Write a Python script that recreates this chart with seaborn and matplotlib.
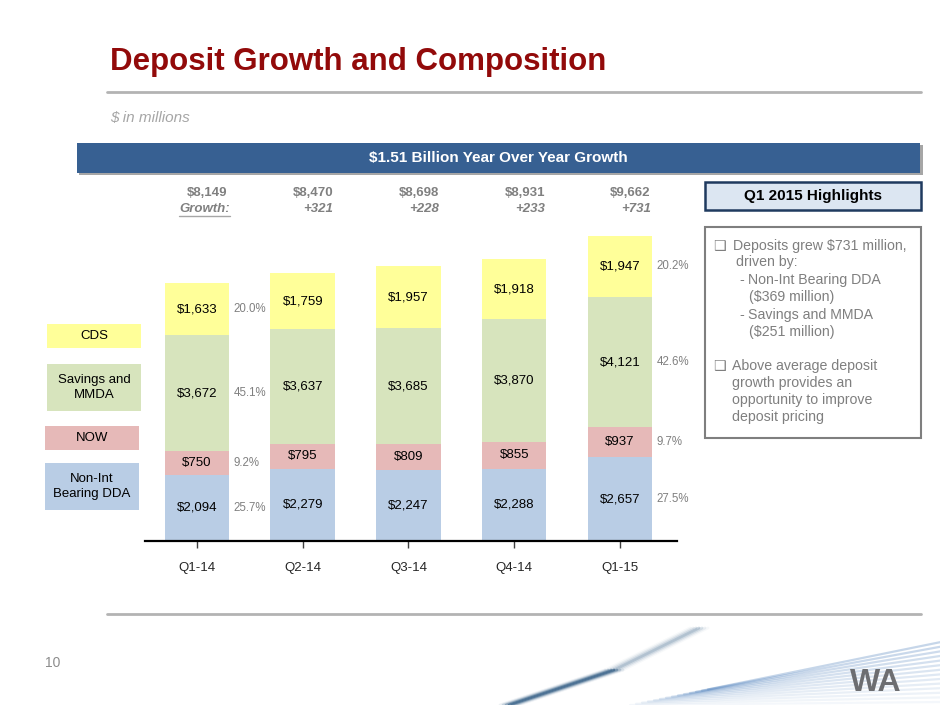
import numpy as np
import pandas as pd
import matplotlib.pyplot as plt
import matplotlib.transforms as mtrans
from matplotlib.patches import Rectangle
import seaborn as sns

sns.set_style("white")
plt.rcParams['font.family'] = ['Liberation Sans', 'DejaVu Sans']

# data ($ in millions)
quarters = ["Q1-14", "Q2-14", "Q3-14", "Q4-14", "Q1-15"]
non_int_dda = [2094, 2279, 2247, 2288, 2657]
now_accts = [750, 795, 809, 855, 937]
savings_mmda = [3672, 3637, 3685, 3870, 4121]
cds = [1633, 1759, 1957, 1918, 1947]
totals = [8149, 8470, 8698, 8931, 9662]
growth = [None, 321, 228, 233, 731]
pct_q1_14 = ["25.7%", "9.2%", "45.1%", "20.0%"]
pct_q1_15 = ["27.5%", "9.7%", "42.6%", "20.2%"]

legend_names = ["CDS", "Savings and\nMMDA", "NOW", "Non-Int\nBearing DDA"]

C_DDA = "#B9CDE5"
C_NOW = "#E6B9B8"
C_SAV = "#D7E4BD"
C_CDS = "#FFFF99"
GRAY = "#808080"

df = pd.DataFrame({"quarter": quarters, "dda": non_int_dda, "now": now_accts,
                   "sav": savings_mmda, "cds": cds})
df["c_now"] = df["dda"] + df["now"]
df["c_sav"] = df["c_now"] + df["sav"]
df["c_cds"] = df["c_sav"] + df["cds"]

fig = plt.figure(figsize=(9.4, 7.05), dpi=100)

# full page overlay in pixel coordinates
ov = fig.add_axes([0, 0, 1, 1])
ov.set_xlim(0, 940)
ov.set_ylim(705, 0)
ov.axis("off")

# chart
ax = fig.add_axes([145 / 940, (705 - 541) / 705, 532 / 940, 316 / 705])
ax.patch.set_alpha(0)
bw = 0.61
for col, color in [("c_cds", C_CDS), ("c_sav", C_SAV), ("c_now", C_NOW), ("dda", C_DDA)]:
    sns.barplot(data=df, x="quarter", y=col, color=color, width=bw, saturation=1,
                linewidth=0, ax=ax)

ax.set_xlim(-0.492, 4.54)
ax.set_ylim(0, 10000)
ax.set_xlabel("")
ax.set_ylabel("")
ax.set_yticks([])
for s in ["top", "right", "left"]:
    ax.spines[s].set_visible(False)
ax.spines["bottom"].set_linewidth(1.6)
ax.spines["bottom"].set_color("black")
ax.tick_params(axis="x", bottom=True, direction="out", length=5, width=1,
               color="#404040", pad=10, labelsize=9.5)

# segment labels
for i in range(len(quarters)):
    segs = [non_int_dda[i], now_accts[i], savings_mmda[i], cds[i]]
    base = 0
    for j, v in enumerate(segs):
        mid = base + v / 2
        ax.text(i, mid, f"${v:,}", ha="center", va="center", fontsize=9.5, color="black")
        if i == 0:
            ax.text(i + bw / 2 + 0.04, mid, pct_q1_14[j], ha="left", va="center",
                    fontsize=8.3, color=GRAY)
        if i == len(quarters) - 1:
            ax.text(i + bw / 2 + 0.04, mid, pct_q1_15[j], ha="left", va="center",
                    fontsize=8.3, color=GRAY)
        base += v

# totals and growth above the bars
blend = mtrans.blended_transform_factory(ax.transData, ov.transData)
for i, t in enumerate(totals):
    ax.text(i + 0.29, 193, f"${t:,}", transform=blend, ha="right", va="center",
            fontsize=9.5, fontweight="bold", color=GRAY)
    if growth[i] is not None:
        ax.text(i + 0.29, 209, f"+{growth[i]}", transform=blend, ha="right", va="center",
                fontsize=9.5, fontweight="bold", style="italic", color=GRAY)
g_txt = ax.text(0 + 0.31, 209, "Growth:", transform=blend, ha="right", va="center",
                fontsize=9.5, fontweight="bold", style="italic", color=GRAY)

# title area
ov.text(110, 62, "Deposit Growth and Composition", fontsize=22.5, fontweight="bold",
        color="#920A0A", ha="left", va="center")
ov.plot([107, 921], [92, 92], color="#B3B3B3", lw=2)
ov.text(110, 118, "$ in millions", fontsize=11, style="italic", color="#A6A6A6",
        ha="left", va="center")

# banner
ov.add_patch(Rectangle((79, 145), 844, 30, facecolor="#A6A6A6", edgecolor="none"))
ov.add_patch(Rectangle((77, 143), 843, 30, facecolor="#376092", edgecolor="none"))
ov.text(498, 158, "$1.51 Billion Year Over Year Growth", fontsize=11, fontweight="bold",
        color="white", ha="center", va="center")

# legend boxes
leg_boxes = [(47, 324, 94, 24, C_CDS), (47, 364, 94, 47, C_SAV),
             (45, 426, 94, 24, C_NOW), (45, 463, 94, 47, C_DDA)]
for name, (x0, y0, w, h, c) in zip(legend_names, leg_boxes):
    ov.add_patch(Rectangle((x0, y0), w, h, facecolor=c, edgecolor="none"))
    ov.text(x0 + w / 2, y0 + h / 2, name, fontsize=9.5, ha="center", va="center",
            color="black", linespacing=1.25)

# highlights
ov.add_patch(Rectangle((705, 182), 216, 28, facecolor="#DCE6F2", edgecolor="#1F3A5F", lw=1.8))
ov.text(813, 196, "Q1 2015 Highlights", fontsize=11, fontweight="bold", color="black",
        ha="center", va="center")
ov.add_patch(Rectangle((705, 227), 216, 211, facecolor="white", edgecolor="#7F7F7F", lw=1.5))
hl_lines = [
    (713, 246, "\u2751"), (733, 246, "Deposits grew $731 million,"),
    (736, 262, "driven by:"),
    (739, 280, "-"), (748, 280, "Non-Int Bearing DDA"),
    (749, 297, "($369 million)"),
    (739, 315, "-"), (748, 315, "Savings and MMDA"),
    (749, 332, "($251 million)"),
    (713, 366, "\u2751"), (732, 366, "Above average deposit"),
    (732, 383, "growth provides an"),
    (732, 400, "opportunity to improve"),
    (732, 417, "deposit pricing"),
]
for x, y, s in hl_lines:
    ov.text(x, y, s, fontsize=10.2, color="#7F7F7F", ha="left", va="center",
            family=["Liberation Sans", "DejaVu Sans"])

# footer
ov.plot([107, 921], [614, 614], color="#B3B3B3", lw=2)
ov.text(45, 663, "10", fontsize=10, color="#8C8C8C", ha="left", va="center")
for k in range(14):
    ov.plot([630 + k * 6, 940], [705 - k * 1.2, 702 - k * 4.6], color="#4F81BD",
            alpha=0.06 + 0.02 * k, lw=1.6)
for k, a in enumerate([0.08, 0.18, 0.35, 0.55, 0.35, 0.18, 0.08]):
    ov.plot([500 + k * 3, 605 + k * 3], [705, 670], color="#1F4E79", alpha=a, lw=2)
    ov.plot([605 + k * 3, 690 + k * 3], [670, 628], color="#1F4E79", alpha=a * 0.4, lw=2)
ov.text(876, 683, "WA", fontsize=23, fontweight="bold", color="#6D6E71",
        ha="center", va="center")

# underline for "Growth:"
fig.canvas.draw()
bb = g_txt.get_window_extent()
ov.plot([bb.x0, bb.x1], [705 - bb.y0 + 1, 705 - bb.y0 + 1], color="#A6A6A6", lw=1)

fig.savefig("out.png", dpi=100)
